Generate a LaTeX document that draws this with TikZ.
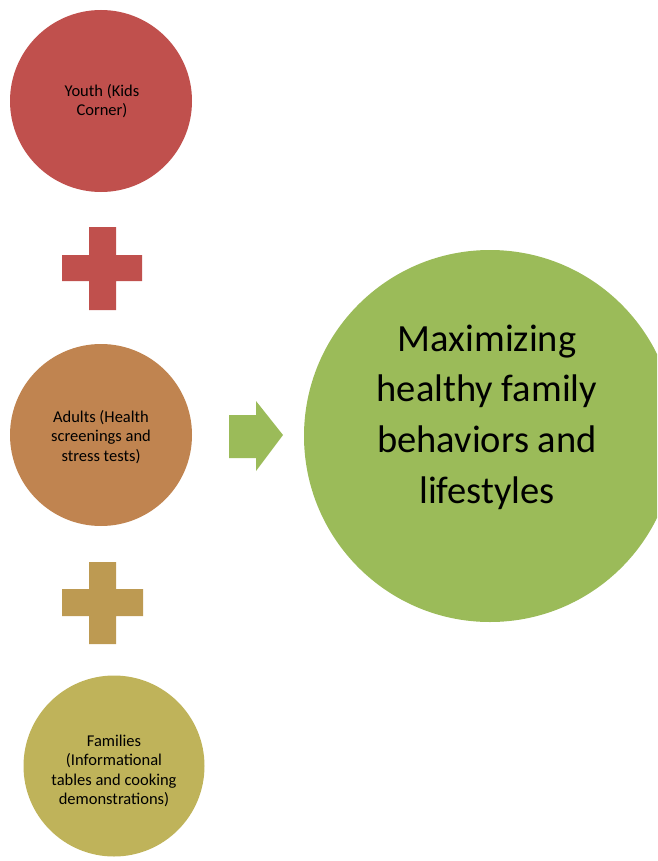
\documentclass[tikz,border=0pt]{standalone}
\usepackage{fontspec}
\setmainfont{Carlito}
\definecolor{cred}{HTML}{C0504D}
\definecolor{corange}{HTML}{C08450}
\definecolor{cgold}{HTML}{BD9A52}
\definecolor{colive}{HTML}{BFB35A}
\definecolor{cgreen}{HTML}{9BBB59}
\tikzset{
  smallcirc/.style={circle, minimum size=182pt, inner sep=0pt},
  smalltext/.style={align=center, inner sep=0pt, font=\fontsize{16.5}{19.3}\selectfont, text=black},
  bigtext/.style={align=center, inner sep=0pt, font=\fontsize{38.5}{50.7}\selectfont, text=black},
}
\begin{document}
\begin{tikzpicture}[x=1pt,y=-1pt]
\useasboundingbox (0,0) rectangle (657,861);
\clip (0,0) rectangle (657,861);
% circles
\node[smallcirc, fill=cred] (youth) at (101,101) {};
\node[smallcirc, fill=corange] (adults) at (101,435) {};
\node[smallcirc, fill=colive, minimum size=181pt] (families) at (114,766) {};
\node[circle, fill=cgreen, minimum size=372pt, inner sep=0pt] (goal) at (490,436) {};
% texts
\node[smalltext] (youthtext) at (102,101) {Youth (Kids\\Corner)};
\node[smalltext] (adultstext) at (101,437) {Adults (Health\\screenings and\\stress tests)};
\node[smalltext] (familiestext) at (114,771) {Families\\(Informational\\tables and cooking\\demonstrations)};
\node[bigtext] (goaltext) at (487,417) {Maximizing\\healthy family\\behaviors and\\lifestyles};
% plus signs
\fill[cred] (89,227) -- (116,227) -- (116,255) -- (142,255) -- (142,281) -- (116,281) -- (116,310) -- (89,310) -- (89,281) -- (62,281) -- (62,255) -- (89,255) -- cycle;
\fill[cgold] (89,562) -- (116,562) -- (116,589) -- (143,589) -- (143,616) -- (116,616) -- (116,644) -- (89,644) -- (89,616) -- (62,616) -- (62,589) -- (89,589) -- cycle;
% arrow
\fill[cgreen] (229,415) -- (256,415) -- (256,401) -- (283,435) -- (256,471) -- (256,458) -- (229,458) -- cycle;
\end{tikzpicture}
\end{document}
